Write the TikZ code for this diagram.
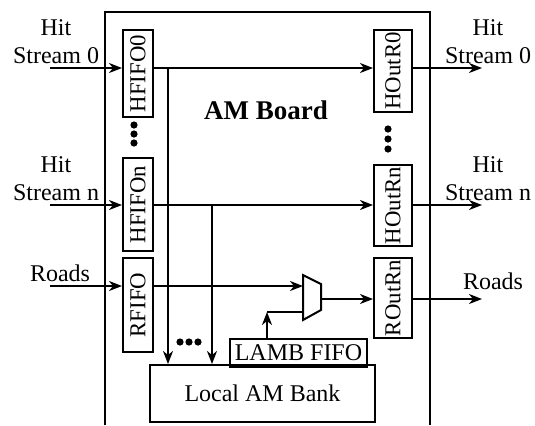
\documentclass[tikz,border=0pt]{standalone}
\usepackage{fontspec}
\setmainfont{Liberation Serif}
\usepackage{tikz}
\usetikzlibrary{arrows.meta}

\begin{document}
\begin{tikzpicture}[x=0.5pt, y=-0.5pt, line width=1pt,
        >={Stealth[length=6.5pt, width=5pt, inset=2pt]},
        every node/.style={font=\fontsize{12}{14}\selectfont},
        fifo/.style={draw, inner sep=0pt, minimum width=15pt, font=\fontsize{11.4}{13}\selectfont},
        outr/.style={fifo, minimum width=19pt},
        blk/.style={draw, inner sep=0pt},
        lbl/.style={align=center}]
        \useasboundingbox (0,0) rectangle (535,425);

        % Board outline
        \draw[line width=1.2pt] (105,425) -- (105,12) -- (430,12) -- (430,425);
        \node[font=\bfseries\fontsize{13.5}{16}\selectfont] (title) at (266,110) {AM Board};

        % Input FIFOs
        \node[fifo, minimum height=43.5pt] (hf0) at (138,73.5) {\rotatebox{90}{HFIFO0}};
        \node[fifo, minimum height=46.5pt] (hfn) at (138,204.5) {\rotatebox{90}{HFIFOn}};
        \node[fifo, minimum height=47pt] (rf) at (138,305) {\rotatebox{90}{RFIFO}};

        % Output registers
        \node[outr, minimum height=41pt] (ho0) at (393,71) {\rotatebox{90}{HOutR0}};
        \node[outr, minimum height=40.5pt] (hon) at (393,205.5) {\rotatebox{90}{HOutRn}};
        \node[outr, minimum height=40pt] (ron) at (393,298) {\rotatebox{90}{ROutRn}};

        % Lookup blocks
        \node[blk, minimum width=68.5pt, minimum height=14pt] (lamb) at (298.5,353) {LAMB FIFO};
        \node[blk, minimum width=112.5pt, minimum height=28.5pt] (bank) at (262.5,393.5) {Local AM Bank};

        % Multiplexer
        \draw (303,275) -- (321,284) -- (321,310) -- (303,320) -- cycle;
        \coordinate (muxa) at (303,286);
        \coordinate (muxb) at (303,312);
        \coordinate (muxo) at (321,299);

        % Stream labels
        \node[lbl] (hs0) at (56,42) {Hit\\Stream 0};
        \node[lbl] (hsn) at (56,179) {Hit\\Stream n};
        \node (rds) at (60,273) {Roads};
        \node[lbl] (os0) at (488,42) {Hit\\Stream 0};
        \node[lbl] (osn) at (488,179) {Hit\\Stream n};
        \node (ords) at (493,281) {Roads};

        % Inputs
        \coordinate (in0) at (50,68);
        \coordinate (inn) at (50,205);
        \coordinate (inr) at (50,286);
        \draw[->] (in0) -- (in0 -| hf0.west);
        \draw[->] (inn) -- (inn -| hfn.west);
        \draw[->] (inr) -- (inr -| rf.west);

        % Through paths
        \draw[->] (hf0.east |- in0) -- (ho0.west |- in0);
        \draw[->] (hfn.east |- inn) -- (hon.west |- inn);
        \draw[->] (rf.east |- inr) -- (muxa);
        \draw[->] (muxo) -- (muxo -| ron.west);

        % Taps into the bank
        \coordinate (tap0) at (168,68);
        \coordinate (tapn) at (212,205);
        \draw[->] (tap0) -- (tap0 |- bank.north);
        \draw[->] (tapn) -- (tapn |- bank.north);

        % Road select
        \coordinate (sel) at (267,312);
        \draw (sel |- bank.north) -- (sel |- lamb.south);
        \draw[->] (sel |- lamb.north) -- (sel);
        \draw (sel) -- (muxb);

        % Outputs
        \coordinate (out0) at (482,68);
        \coordinate (outn) at (482,205);
        \coordinate (outr) at (482,299);
        \draw[->] (ho0.east |- out0) -- (out0);
        \draw[->] (hon.east |- outn) -- (outn);
        \draw[->] (ron.east |- outr) -- (outr);

        % Dots
        \foreach \y in {125,134,143} \fill (134,\y) circle (1.8pt);
        \foreach \y in {129,139,149} \fill (388,\y) circle (1.8pt);
        \foreach \x in {180,189,198} \fill (\x,342) circle (1.8pt);
    \end{tikzpicture}
\end{document}
